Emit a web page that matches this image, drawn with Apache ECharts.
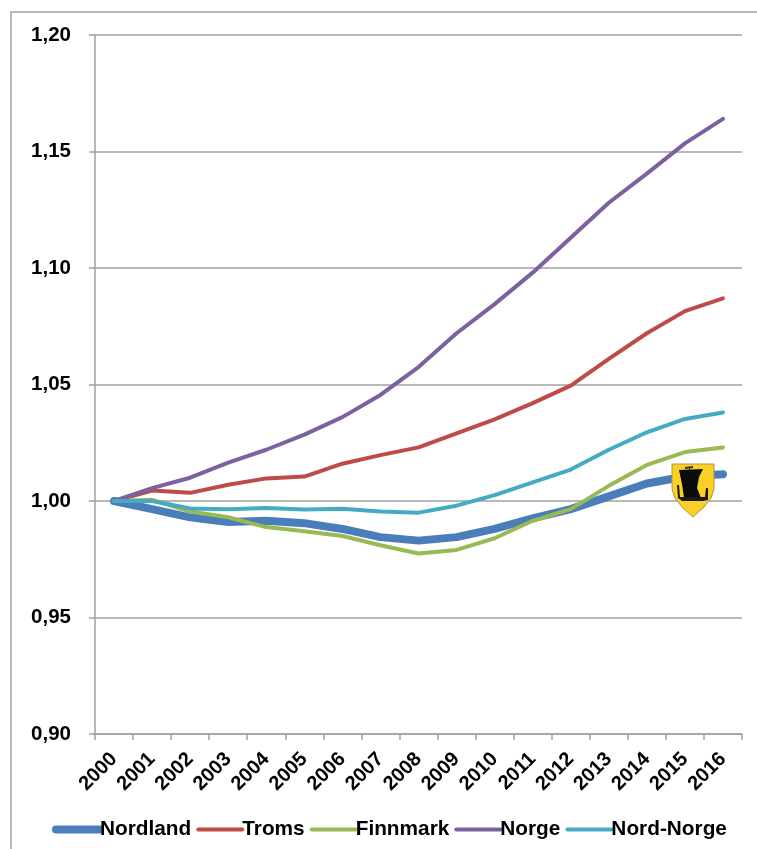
<!DOCTYPE html>
<html>
<head>
<meta charset="utf-8">
<style>html,body{margin:0;padding:0;background:#fff}#c{width:757px;height:849px}</style>
<script src="https://cdn.jsdelivr.net/npm/echarts@6/dist/echarts.min.js"></script>
</head>
<body>
<div id="c"></div>
<script>
const years = ['2000','2001','2002','2003','2004','2005','2006','2007','2008','2009','2010','2011','2012','2013','2014','2015','2016'];
const nordland = [1.000,0.9965,0.993,0.991,0.9915,0.9905,0.988,0.9845,0.983,0.9845,0.988,0.9925,0.9965,1.002,1.0075,1.0105,1.0115];
const troms = [1.000,1.0045,1.0035,1.007,1.0097,1.0105,1.016,1.0197,1.023,1.029,1.035,1.042,1.0495,1.061,1.072,1.0815,1.087];
const finnmark = [1.000,1.0005,0.9955,0.993,0.9888,0.987,0.985,0.981,0.9775,0.979,0.984,0.9915,0.9965,1.0065,1.0155,1.021,1.023];
const norge = [1.000,1.0055,1.010,1.0165,1.022,1.0285,1.036,1.0455,1.0575,1.072,1.0845,1.098,1.113,1.128,1.1405,1.1535,1.164];
const nordNorge = [1.000,1.000,0.9968,0.9965,0.997,0.9963,0.9967,0.9955,0.995,0.998,1.0025,1.008,1.0135,1.022,1.0295,1.0352,1.038];

const font = '"Liberation Sans", Arial, sans-serif';
const grey = '#a0a0a0';
const line = (name, data, color, width) => ({
  name, data, type: 'line', symbol: 'none', smooth: false,
  lineStyle: {color, width, cap: 'round', join: 'round'},
  itemStyle: {color}
});
const legendItem = (name, width) => ({
  name,
  lineStyle: {width, cap: 'round'},
  itemStyle: {opacity: 0}
});

// Shield with a viking ship, placed over the last years of the plot
function shield(x, y) {
  const s = (points, fill, stroke) => ({
    type: 'polygon', x, y, silent: true, z: 50,
    shape: {points},
    style: {fill, stroke: stroke || null, lineWidth: stroke ? 1 : 0}
  });
  return {
    type: 'group', children: [
      s([[0,0],[42,0],[42,25],[39,34],[32,43],[21,53],[10,43],[3,34],[0,25]], '#fbd024', '#a8983c'),
      s([[7,6],[31,5],[27,13],[25,24],[29,34],[12,34],[10,20]], '#0b0b0b'),
      s([[5,21],[7,21],[8,33],[33,33],[34,24],[36,24],[36,36],[31,37],[10,37],[6,34]], '#1a1a1a'),
      s([[13,3],[21,2],[21,4],[13,5]], '#333333'),
      s([[17,3],[18,3],[18,6],[17,6]], '#333333')
    ]
  };
}

const chart = echarts.init(document.getElementById('c'), null, {renderer: 'canvas'});
chart.setOption({
  animation: false,
  backgroundColor: '#fff',
  grid: {left: 95, top: 35, width: 647, height: 699, containLabel: false},
  xAxis: {
    type: 'category', data: years, boundaryGap: true,
    axisLine: {lineStyle: {color: grey, width: 1.5}},
    axisTick: {show: true, alignWithLabel: false, length: 6, lineStyle: {color: grey, width: 1.5}},
    axisLabel: {rotate: 45, interval: 0, margin: 22, color: '#000', fontFamily: font, fontWeight: 'bold', fontSize: 20}
  },
  yAxis: {
    type: 'value', min: 0.90, max: 1.20, interval: 0.05,
    axisLine: {show: true, lineStyle: {color: grey, width: 1.5}},
    axisTick: {show: true, length: 6, lineStyle: {color: grey, width: 1.5}},
    splitLine: {show: true, lineStyle: {color: grey, width: 1.5}},
    axisLabel: {margin: 24, padding: [8,0,0,0], color: '#000', fontFamily: font, fontWeight: 'bold', fontSize: 20.5,
      formatter: v => v.toFixed(2).replace('.', ',')}
  },
  legend: {
    left: 52, top: 819, itemWidth: 44, itemHeight: 8, itemGap: 5, padding: 0,
    textStyle: {color: '#000', fontFamily: font, fontWeight: 'bold', fontSize: 20.8, padding: [0,0,0,-5]},
    data: [legendItem('Nordland', 8), legendItem('Troms', 4), legendItem('Finnmark', 4), legendItem('Norge', 4), legendItem('Nord-Norge', 4)]
  },
  series: [
    line('Nordland', nordland, '#4a7ebb', 8),
    line('Troms', troms, '#be4b48', 4),
    line('Finnmark', finnmark, '#98b954', 4),
    line('Norge', norge, '#7d60a0', 4),
    line('Nord-Norge', nordNorge, '#46aac5', 4)
  ],
  graphic: [
    {type: 'polyline', silent: true, shape: {points: [[11,849],[11,12],[757,12]]}, style: {stroke: grey, lineWidth: 1.5, fill: null}},
    shield(672, 464)
  ]
});
</script>
</body>
</html>
